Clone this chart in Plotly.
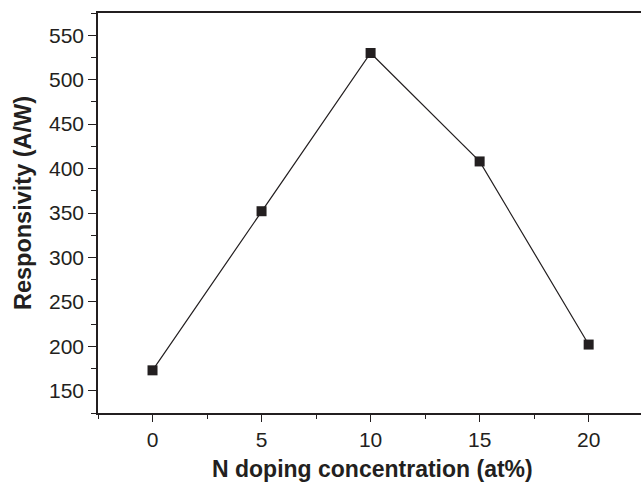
import plotly.graph_objects as go

concentration = [0, 5, 10, 15, 20]
responsivity = [173, 352, 530, 408, 202]
x_ticks = [0, 5, 10, 15, 20]
y_ticks = [150, 200, 250, 300, 350, 400, 450, 500, 550]
x_title = "N doping concentration (at%)"
y_title = "Responsivity (A/W)"

ink = "#231f20"
font_family = "Liberation Sans, Arial, sans-serif"

fig = go.Figure()
fig.add_trace(go.Scatter(
    x=concentration, y=responsivity,
    mode="lines+markers",
    line=dict(color=ink, width=1.2),
    marker=dict(symbol="square", size=10, color=ink),
    showlegend=False,
))

fig.update_layout(
    width=641, height=483,
    margin=dict(l=98, r=0, t=13, b=70, autoexpand=False),
    plot_bgcolor="white", paper_bgcolor="white",
    font=dict(family=font_family, color=ink, size=21),
    xaxis=dict(
        range=[-2.5, 22.4],
        tickvals=x_ticks,
        ticks="outside", ticklen=7, tickwidth=1.2, tickcolor=ink,
        minor=dict(ticks="outside", ticklen=4, tickwidth=1.2, tickcolor=ink, dtick=2.5, tick0=-2.5),
        showline=True, linecolor=ink, linewidth=1.5, mirror=True,
        showgrid=False, zeroline=False, automargin=False,
        tickfont=dict(size=21, color=ink),
    ),
    yaxis=dict(
        range=[125, 575],
        tickvals=y_ticks,
        ticks="outside", ticklen=8, tickwidth=1.2, tickcolor=ink,
        minor=dict(ticks="outside", ticklen=5, tickwidth=1.2, tickcolor=ink, dtick=25, tick0=125),
        showline=True, linecolor=ink, linewidth=1.5, mirror=False,
        showgrid=False, zeroline=False, automargin=False,
        tickfont=dict(size=21, color=ink),
    ),
    annotations=[
        dict(text="<b>" + x_title + "</b>", xref="paper", yref="paper",
             x=0.5055, y=-0.1405, xanchor="center", yanchor="middle",
             showarrow=False, font=dict(size=23, color=ink)),
        dict(text="<b>" + y_title + "</b>", xref="paper", yref="paper",
             x=-0.138, y=0.525, xanchor="center", yanchor="middle", textangle=-90,
             showarrow=False, font=dict(size=23.5, color=ink)),
    ],
)

fig.write_html("out.html")
